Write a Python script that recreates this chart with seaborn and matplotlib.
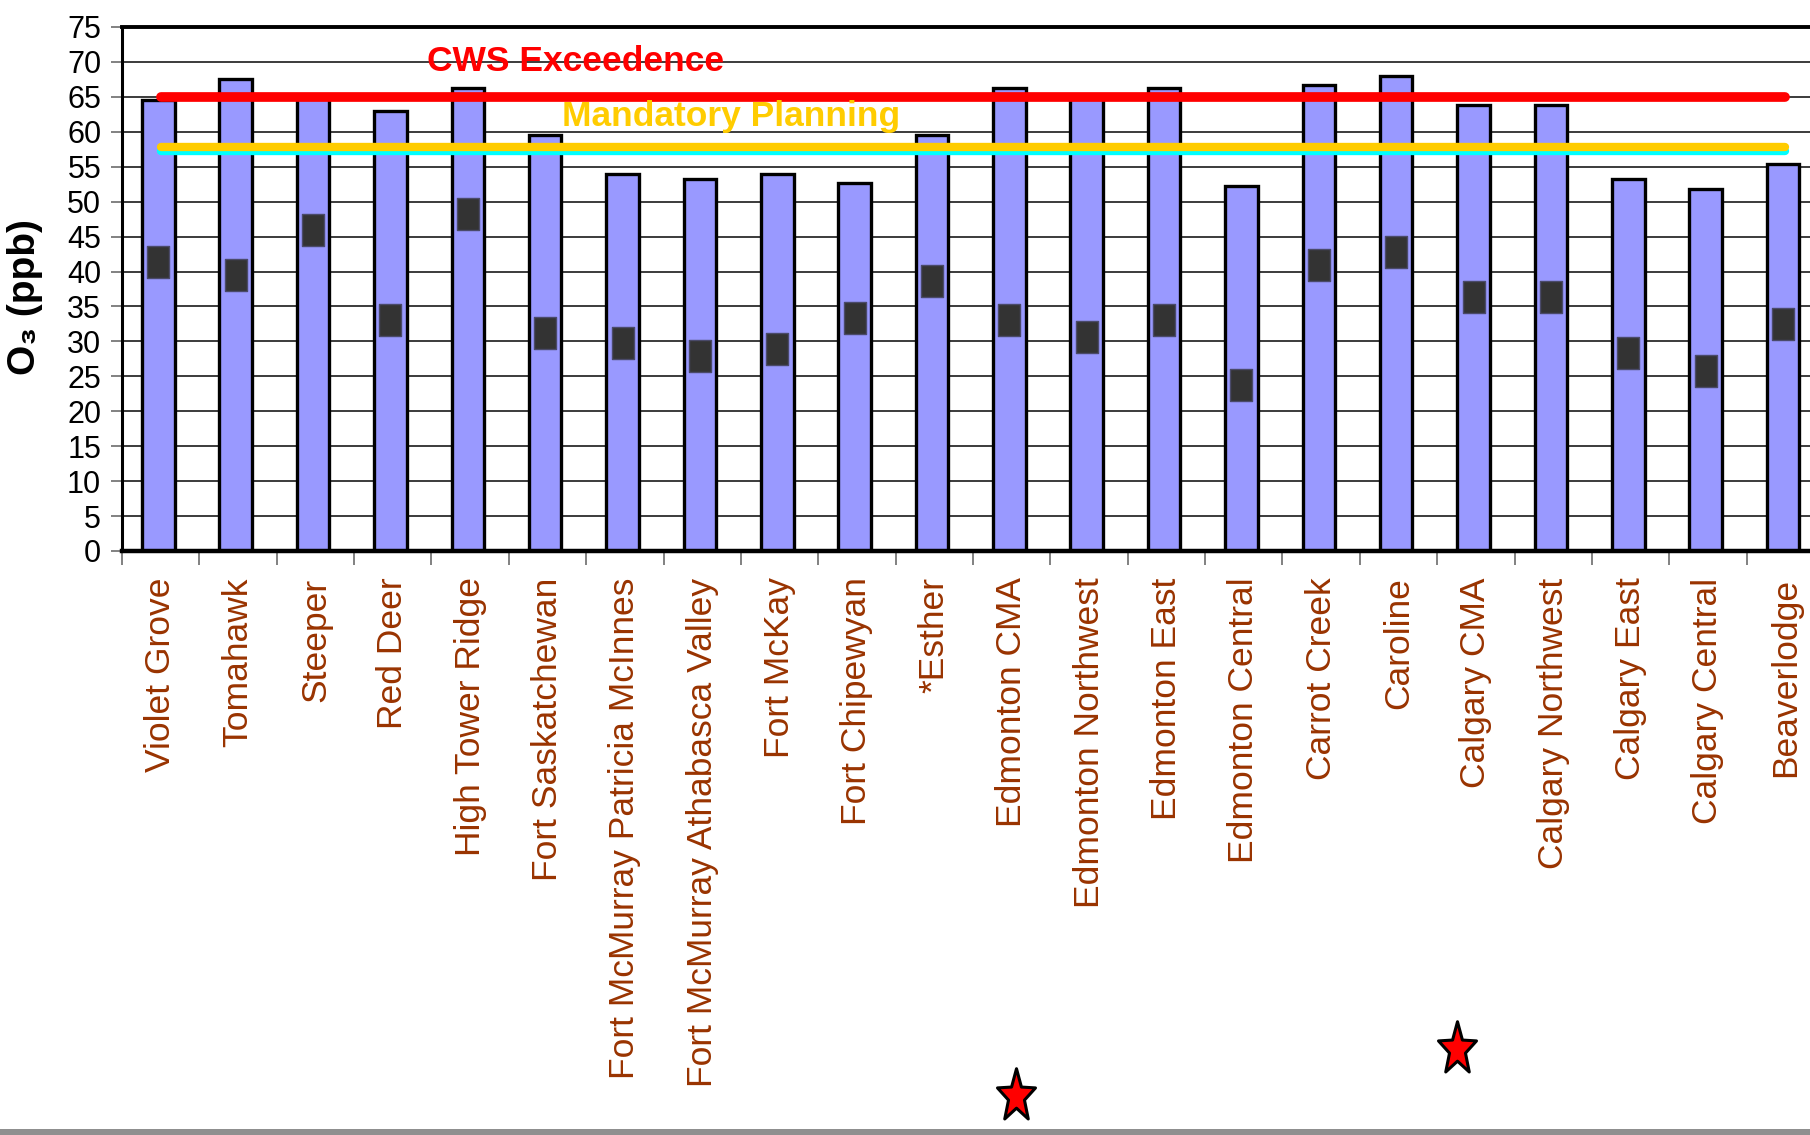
import numpy as np
import pandas as pd
import matplotlib
matplotlib.use("Agg")
import matplotlib.pyplot as plt
import seaborn as sns
from matplotlib.path import Path
from matplotlib.patches import Rectangle
from matplotlib.ticker import FixedLocator
import matplotlib.transforms as mtransforms

# ---------------- data ----------------
stations = ["Violet Grove", "Tomahawk", "Steeper", "Red Deer", "High Tower Ridge",
            "Fort Saskatchewan", "Fort McMurray Patricia McInnes",
            "Fort McMurray Athabasca Valley", "Fort McKay", "Fort Chipewyan",
            "*Esther", "Edmonton CMA", "Edmonton Northwest", "Edmonton East",
            "Edmonton Central", "Carrot Creek", "Caroline", "Calgary CMA",
            "Calgary Northwest", "Calgary East", "Calgary Central", "Beaverlodge"]
o3_metric = [64.5, 67.6, 65.0, 63.0, 66.3, 59.6, 54.0, 53.2, 54.0, 52.7, 59.6,
             66.3, 65.0, 66.3, 52.2, 66.7, 68.0, 63.9, 63.9, 53.2, 51.8, 55.4]
o3_mean = [41.3, 39.5, 45.9, 33.0, 48.2, 31.2, 29.7, 27.9, 28.9, 33.4, 38.7,
           33.0, 30.7, 33.0, 23.8, 41.0, 42.8, 36.3, 36.3, 28.4, 25.8, 32.5]
cws_level = 65.0
planning_level = 57.8
planning_lower = 57.25
starred = ["Edmonton CMA", "Calgary CMA"]
star_offsets = [0.06, -0.24]
star_heights = [-1.036, -0.945]
yticks = list(range(0, 80, 5))

# ---------------- style ----------------
sns.set_theme(style="white")
plt.rcParams['font.family'] = ['Liberation Sans', 'DejaVu Sans']

W, H = 1810, 1135
fig = plt.figure(figsize=(W / 100, H / 100), dpi=100)
ax_l, ax_r, ax_t, ax_b = 122, 1824, 27, 551
ax = fig.add_axes([ax_l / W, 1 - ax_b / H, (ax_r - ax_l) / W, (ax_b - ax_t) / H])

n = len(stations)
df = pd.DataFrame({"station": stations, "o3": o3_metric, "mean": o3_mean,
                   "pos": np.arange(n) - 0.03})

ax.set_axisbelow(True)
ax.yaxis.grid(True, color="#1a1a1a", linewidth=1.2)
ax.xaxis.grid(False)

sns.barplot(data=df, x="station", y="o3", color="#9999FF", saturation=1,
            width=0.42, edgecolor="black", linewidth=2.4, ax=ax, zorder=2)
# nudge bars slightly left of the slot centre, as in the original
for p in ax.patches:
    p.set_x(p.get_x() - 0.03)

# reference lines
ax.plot([0, n - 1], [planning_lower, planning_lower], color="#00FFFF", lw=6.0,
        solid_capstyle="round", zorder=5)
ax.plot([0, n - 1], [planning_level, planning_level], color="#FFCC00", lw=6.0,
        solid_capstyle="round", zorder=6)
ax.plot([0, n - 1], [cws_level, cws_level], color="#FF0000", lw=7.0,
        solid_capstyle="round", zorder=6)

# mean markers (tall dark rectangles)
rect = Path([(-0.36, -0.5), (0.36, -0.5), (0.36, 0.5), (-0.36, 0.5), (-0.36, -0.5)],
            [Path.MOVETO, Path.LINETO, Path.LINETO, Path.LINETO, Path.CLOSEPOLY])
sns.scatterplot(data=df, x="pos", y="mean", marker=rect, s=22.5 ** 2,
                color="#333333", edgecolor="#4a4a6a", linewidth=1.0, ax=ax,
                zorder=7, legend=False)

# annotations
ax.text(3.44, 70.1, "CWS Exceedence", color="#FF0000", fontsize=25.5,
        fontweight="bold", ha="left", va="center", zorder=8)
ax.text(5.19, 62.2, "Mandatory Planning", color="#FFCC00", fontsize=25.5,
        fontweight="bold", ha="left", va="center", zorder=8)

# stars below chart
vs = []
for k in range(10):
    ang = np.pi / 2 + k * np.pi / 5
    r = 1.0 if k % 2 == 0 else 0.42
    vs.append((0.72 * r * np.cos(ang), r * np.sin(ang)))
vs.append(vs[0])
star = Path(vs, [Path.MOVETO] + [Path.LINETO] * 9 + [Path.CLOSEPOLY])
blend = mtransforms.blended_transform_factory(ax.transData, ax.transAxes)
for name, off, hy in zip(starred, star_offsets, star_heights):
    ax.plot([stations.index(name) + off], [hy - 0.005], marker=star, markersize=40,
            markerfacecolor="#FF0000", markeredgecolor="black",
            markeredgewidth=2.2, transform=blend, clip_on=False, zorder=9)

# axes
ax.set_xlim(-0.5, n - 0.5)
ax.set_ylim(0, 75)
ax.yaxis.set_major_locator(FixedLocator(yticks))
ax.set_yticklabels([str(t) for t in yticks], fontsize=22, color="black")
ax.tick_params(axis="y", which="major", direction="out", length=8, width=1.3,
               color="#777777", pad=7, left=True)
ax.set_xticks(np.arange(n))
ax.set_xticklabels(stations, rotation=90, fontsize=25.5, color="#993300",
                   ha="center", va="top")
ax.tick_params(axis="x", which="major", length=0, pad=19)
ax.xaxis.set_minor_locator(FixedLocator(np.arange(-0.5, n, 1.0)))
ax.tick_params(axis="x", which="minor", direction="out", length=10, width=1.3,
               color="#777777", bottom=True)
ax.set_xlabel("")
ax.set_ylabel("O₃ (ppb)", fontsize=28, fontweight="bold", color="black")
ax.yaxis.set_label_coords(-0.0464, 0.485)

for side in ["left", "top", "bottom", "right"]:
    ax.spines[side].set_visible(True)
    ax.spines[side].set_color("black")
ax.spines["left"].set_linewidth(2.2)
ax.spines["top"].set_linewidth(2.8)
ax.spines["bottom"].set_linewidth(3.2)
ax.spines["right"].set_linewidth(2.2)

fig.add_artist(Rectangle((0, 0), 1, 6 / H, transform=fig.transFigure,
                         facecolor="#8f8f8f", edgecolor="none"))

fig.savefig("out.png", dpi=100, facecolor="white")
